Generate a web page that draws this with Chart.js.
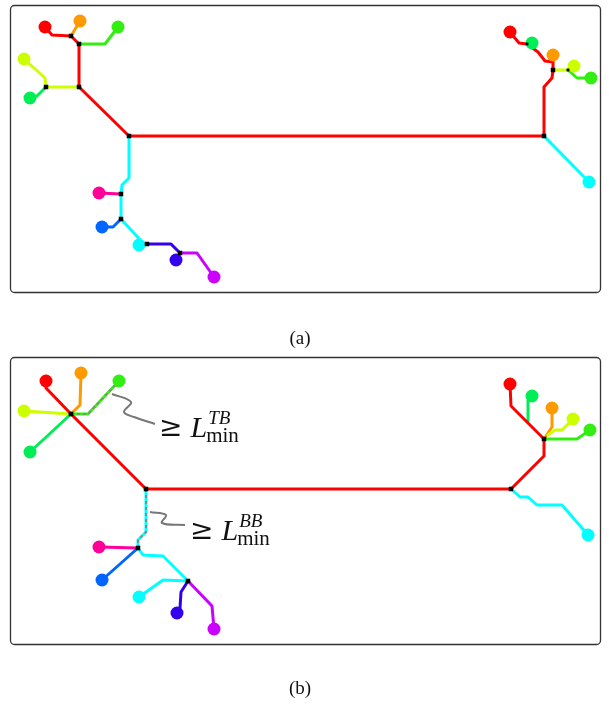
<!DOCTYPE html>
<html><head><meta charset="utf-8">
<script src="https://cdn.jsdelivr.net/npm/chart.js@4"></script>
<style>html,body{margin:0;padding:0;background:#fff}#wrap{width:609px;height:704px}</style>
</head><body><div id="wrap"><canvas id="c" width="609" height="704"></canvas></div>
<script>
// ---- panel (a) branches ----
const redA = [[45,27],[52,35],[71,36],[79,44],[79,87],[129,136],[544,136],[544,87],[552,78],[553,70],[553,62],[545,61],[538,52],[527,44],[519,43],[510,32]];
const orangeA1 = [[71,36],[80,21]];
const greenA1 = [[79,44],[105,44],[118,27]];
const yellowA1 = [[79,87],[46,87],[45,78],[24,59]];
const springA1 = [[46,87],[37,96],[30,98]];
const cyanA1 = [[129,136],[129,178],[122,185],[121,194],[121,219],[143,243],[147,244]];
const pinkA = [[121,194],[99,193]];
const blueA = [[121,219],[113,227],[102,227]];
const indigoA = [[147,244],[171,244],[180,253],[176,260]];
const purpleA = [[180,253],[197,253],[214,277]];
const orangeA2 = [[553,62],[553,55]];
const springA2 = [[527,44],[532,43]];
const yellowA2 = [[553,70],[568,70],[574,66]];
const greenA2 = [[568,70],[577,78],[591,78]];
const cyanA2 = [[544,136],[589,182]];
const leavesA = [[45,27],[80,21],[118,27],[24,59],[30,98],[99,193],[102,227],[139,245],[176,260],[214,277],[510,32],[532,43],[553,55],[574,66],[591,78],[589,182]];
const leafKeysA = ['red','orange','green','yellow','spring','pink','blue','cyan','indigo','purple','red','spring','orange','yellow','green','cyan'];
const nodesA = [[71,36],[79,44],[79,87],[46,87],[129,136],[544,136],[553,70],[121,194],[121,219],[147,244],[180,253]];
const minorNodesA = [[527,44],[568,70]];

// ---- panel (b) branches ----
const redB = [[46,381],[46,388],[71,414],[146,489],[511,489],[544,456],[544,439],[511,406],[510,384]];
const orangeB1 = [[81,373],[80,405],[71,414]];
const greenB1 = [[71,414],[88,414],[119,381]];
const yellowB1 = [[24,411],[71,414]];
const springB1 = [[30,452],[71,414]];
const cyanB1 = [[146,489],[146,532],[138,540],[138,548],[143,555],[163,556],[188,581]];
const pinkB = [[99,547],[138,548]];
const blueB = [[102,580],[138,548]];
const cyanB2 = [[139,597],[163,580],[188,581]];
const indigoB = [[188,581],[181,592],[180,608],[177,613]];
const purpleB = [[188,581],[212,606],[214,629]];
const springB2 = [[532,396],[528,400],[528,421]];
const orangeB2 = [[552,408],[552,427],[544,439]];
const yellowB2 = [[573,419],[562,430],[555,430],[548,435]];
const greenB2 = [[590,430],[577,439],[544,439]];
const cyanB3 = [[511,489],[520,497],[528,497],[537,505],[562,505],[588,535]];
const dashTB = [[71,414],[88,414],[119,381]];
const dashBB = [[146,489],[146,532],[138,540],[138,548]];
const squiggleTB = [[112,394],[131,402],[124,412],[134,417],[155,424]];
const squiggleBB = [[150,512],[166,515],[162,523],[185,525]];
const leavesB = [[46,381],[81,373],[119,381],[24,411],[30,452],[99,547],[102,580],[139,597],[177,613],[214,629],[510,384],[532,396],[552,408],[573,419],[590,430],[588,535]];
const leafKeysB = ['red','orange','green','yellow','spring','pink','blue','cyan','indigo','purple','red','spring','orange','yellow','green','cyan'];
const nodesB = [[71,414],[146,489],[511,489],[544,439],[138,548],[188,581]];

// labels
const panelLabels = ['(a)','(b)'];
const panelLabelPos = [[300,339],[300,689]];
const panelFrames = [[10,5,600,292],[10,357,600,644]];
const boundLabels = [{sup:'TB', at:[159,437]},{sup:'BB', at:[190,540]}];

const COL = {red:'#ff0000',orange:'#ff9900',green:'#33ee11',yellow:'#ccff00',spring:'#00ee55',cyan:'#00ffff',pink:'#ff0099',blue:'#0066ff',indigo:'#3300ee',purple:'#cc00ff'};

const toXY = a => a.map(p => ({x:p[0], y:p[1]}));
function branch(pts, key, w){
  return {type:'scatter', data:toXY(pts), showLine:true, borderColor:COL[key], borderWidth:w||3, pointRadius:0, fill:false, order:3, clip:false, borderJoinStyle:'round', borderCapStyle:'round'};
}
const branches = [
  [cyanA1,'cyan'],[pinkA,'pink'],[blueA,'blue'],[indigoA,'indigo'],[purpleA,'purple'],[cyanA2,'cyan'],
  [orangeA1,'orange'],[greenA1,'green'],[yellowA1,'yellow'],[springA1,'spring'],[orangeA2,'orange'],[springA2,'spring'],[yellowA2,'yellow'],[greenA2,'green'],
  [redA,'red'],
  [cyanB1,'cyan'],[pinkB,'pink'],[blueB,'blue'],[cyanB2,'cyan'],[indigoB,'indigo'],[purpleB,'purple'],[cyanB3,'cyan'],
  [orangeB1,'orange'],[greenB1,'green'],[yellowB1,'yellow'],[springB1,'spring'],[springB2,'spring'],[orangeB2,'orange'],[yellowB2,'yellow'],[greenB2,'green'],
  [redB,'red']
];
const datasets = branches.map((b,i)=>{const d=branch(b[0],b[1]); d.order=10+(branches.length-i); return d;});
datasets.push({type:'scatter', data:toXY(dashTB), showLine:true, borderColor:'#888888', borderWidth:2, borderDash:[3,3], pointRadius:0, order:5, clip:false});
datasets.push({type:'scatter', data:toXY(dashBB), showLine:true, borderColor:'#888888', borderWidth:2, borderDash:[3,3], pointRadius:0, order:5, clip:false});
datasets.push({type:'scatter', data:toXY(squiggleTB), showLine:true, borderColor:'#777777', borderWidth:2, tension:0.4, pointRadius:0, order:5, clip:false});
datasets.push({type:'scatter', data:toXY(squiggleBB), showLine:true, borderColor:'#777777', borderWidth:2, tension:0.4, pointRadius:0, order:5, clip:false});
const leafCols = leafKeysA.map(k=>COL[k]).concat(leafKeysB.map(k=>COL[k]));
datasets.push({type:'scatter', data:toXY(leavesA.concat(leavesB)), showLine:false, pointRadius:6.5, pointBackgroundColor:leafCols, pointBorderWidth:0, pointBorderColor:leafCols, order:2, clip:false});
datasets.push({type:'scatter', data:toXY(nodesA.concat(nodesB)), showLine:false, pointStyle:'rect', pointRadius:3.2, pointBackgroundColor:'#000', pointBorderWidth:0, order:1, clip:false});
datasets.push({type:'scatter', data:toXY(minorNodesA), showLine:false, pointStyle:'rect', pointRadius:2, pointBackgroundColor:'#000', pointBorderWidth:0, order:1, clip:false});

const deco = {
  id:'deco',
  beforeDatasetsDraw(chart){
    const {ctx, scales:{x,y}} = chart;
    ctx.save();
    ctx.strokeStyle='#333'; ctx.lineWidth=1.3;
    panelFrames.forEach(f=>{
      const x0=x.getPixelForValue(f[0]), y0=y.getPixelForValue(f[1]), x1=x.getPixelForValue(f[2]), y1=y.getPixelForValue(f[3]);
      ctx.beginPath(); ctx.roundRect(x0+0.5,y0+0.5,x1-x0,y1-y0,4); ctx.stroke();
    });
    ctx.restore();
  },
  afterDraw(chart){
    const {ctx, scales:{x,y}} = chart;
    ctx.save();
    ctx.fillStyle='#111'; ctx.textAlign='center'; ctx.textBaseline='middle';
    ctx.font='19px "Liberation Serif"';
    panelLabels.forEach((t,i)=>ctx.fillText(t, x.getPixelForValue(panelLabelPos[i][0]), y.getPixelForValue(panelLabelPos[i][1])));
    ctx.textAlign='left'; ctx.textBaseline='alphabetic';
    boundLabels.forEach(b=>{
      let px=x.getPixelForValue(b.at[0]), py=y.getPixelForValue(b.at[1]);
      ctx.font='28px "DejaVu Serif"'; ctx.fillText('\u2265', px, py-1);
      px += ctx.measureText('\u2265').width + 8;
      ctx.font='italic 30px "Liberation Serif"'; ctx.fillText('L', px, py);
      px += ctx.measureText('L').width - 1;
      ctx.font='italic 19px "Liberation Serif"'; ctx.fillText(b.sup, px+2, py-13);
      ctx.font='21px "Liberation Serif"'; ctx.fillText('min', px, py+5);
    });
    ctx.restore();
  }
};

new Chart(document.getElementById('c'), {
  type:'scatter',
  data:{datasets},
  options:{
    responsive:false, animation:false, devicePixelRatio:1,
    layout:{padding:0, autoPadding:false},
    plugins:{legend:{display:false}, tooltip:{enabled:false}},
    scales:{
      x:{type:'linear', min:0, max:609, display:false},
      y:{type:'linear', min:0, max:704, reverse:true, display:false}
    }
  },
  plugins:[deco]
});
</script></body></html>
